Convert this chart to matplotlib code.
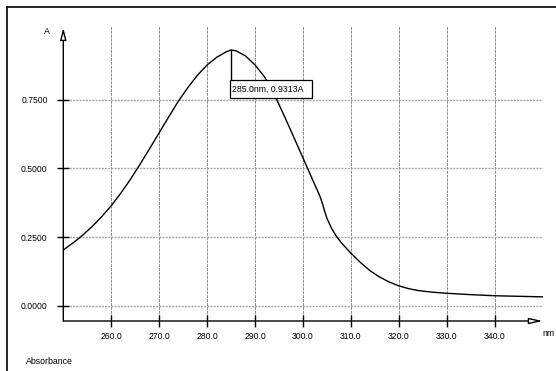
import matplotlib
matplotlib.use("Agg")
import matplotlib.pyplot as plt
from matplotlib.lines import Line2D
from matplotlib.patches import Rectangle

plt.rcParams['font.family'] = ['Liberation Sans', 'DejaVu Sans']

# spectre (nm, absorbance)
wavelength = [250, 252, 254, 256, 258, 260, 262, 264, 266, 268, 270, 272, 274,
              276, 278, 280, 282, 284, 285, 286, 288, 290, 292, 294, 296, 298,
              300, 302, 303.5, 304, 304.5, 305, 306, 307, 308, 310, 312, 314,
              316, 318, 320, 322, 324, 327, 330, 335, 340, 345, 350]
absorbance = [0.203, 0.228, 0.256, 0.288, 0.324, 0.364, 0.410, 0.460, 0.515, 0.572,
              0.630, 0.688, 0.745, 0.795, 0.840, 0.877, 0.905, 0.925, 0.9313, 0.929,
              0.910, 0.877, 0.833, 0.770, 0.695, 0.617, 0.538, 0.459, 0.400, 0.375,
              0.345, 0.318, 0.280, 0.252, 0.229, 0.191, 0.157, 0.127, 0.104, 0.086,
              0.072, 0.062, 0.055, 0.049, 0.045, 0.040, 0.036, 0.034, 0.032]

x_ticks = [260, 270, 280, 290, 300, 310, 320, 330, 340]
y_ticks = [0.0, 0.25, 0.5, 0.75]
peak_nm = 285.0
peak_abs = 0.9313

fig = plt.figure(figsize=(5.56, 3.71), dpi=100)
ax = fig.add_axes([63.3 / 556, 1 - 321 / 371, (542.7 - 63.3) / 556, (321 - 26) / 371])
ax.set_xlim(250, 350)
ax.set_ylim(-0.056, 1.019)

for s in ax.spines.values():
    s.set_visible(False)

# grille
for xv in x_ticks:
    ax.axvline(xv, color='#8a8a8a', lw=0.7, ls=(0, (3, 1)), zorder=1)
for yv in y_ticks:
    ax.axhline(yv, color='#a8a8a8', lw=1.0, ls=(0, (1.5, 0.8)), zorder=1)

ax.plot(wavelength, absorbance, color='black', lw=1.0, zorder=3)

# axes avec fleches
ax.annotate('', xy=(250, 1.012), xytext=(250, -0.056), annotation_clip=False,
            arrowprops=dict(arrowstyle='-|>,head_length=0.7,head_width=0.18',
                            fc='white', ec='black', lw=1.0, shrinkA=0, shrinkB=0))
ax.annotate('', xy=(350, -0.056), xytext=(250, -0.056), annotation_clip=False,
            arrowprops=dict(arrowstyle='-|>,head_length=0.8,head_width=0.18',
                            fc='white', ec='black', lw=1.0, shrinkA=0, shrinkB=0))

ax.set_xticks(x_ticks)
ax.set_xticklabels([f"{v:.1f}" for v in x_ticks])
ax.set_yticks(y_ticks)
ax.set_yticklabels([f"{v:.4f}" for v in y_ticks])
ax.tick_params(direction='inout', length=8.5, width=1.0, labelsize=6.2,
               colors='black')
ax.tick_params(axis='y', pad=7)
ax.tick_params(axis='x', pad=3.5)

# marqueur du pic
ax.plot([peak_nm, peak_nm], [peak_abs, 0.8225], color='black', lw=1.0, zorder=4)
ax.add_patch(Rectangle((peak_nm - 0.2, 0.758), 17.05, 0.8225 - 0.758,
                       fc='white', ec='black', lw=0.9, zorder=5))
ax.text(peak_nm + 0.1, 0.790, f"{peak_nm:.1f}nm, {peak_abs:.4f}A", fontsize=6.3,
        ha='left', va='center', zorder=6)

fig.text(47 / 556, 1 - 31 / 371, "A", fontsize=6.3, ha='center', va='center')
fig.text(548 / 556, 1 - 334 / 371, "nm", fontsize=6.3, ha='center', va='center')
fig.text(26 / 556, 1 - 362 / 371, "Absorbance", fontsize=6.3, ha='left', va='center')

# cadre exterieur
fig.add_artist(Line2D([7 / 556, 1], [1 - 7 / 371, 1 - 7 / 371], color='black', lw=1.2))
fig.add_artist(Line2D([7 / 556, 7 / 556], [0, 1 - 7 / 371], color='black', lw=1.2))

fig.savefig("out.png", dpi=100)
